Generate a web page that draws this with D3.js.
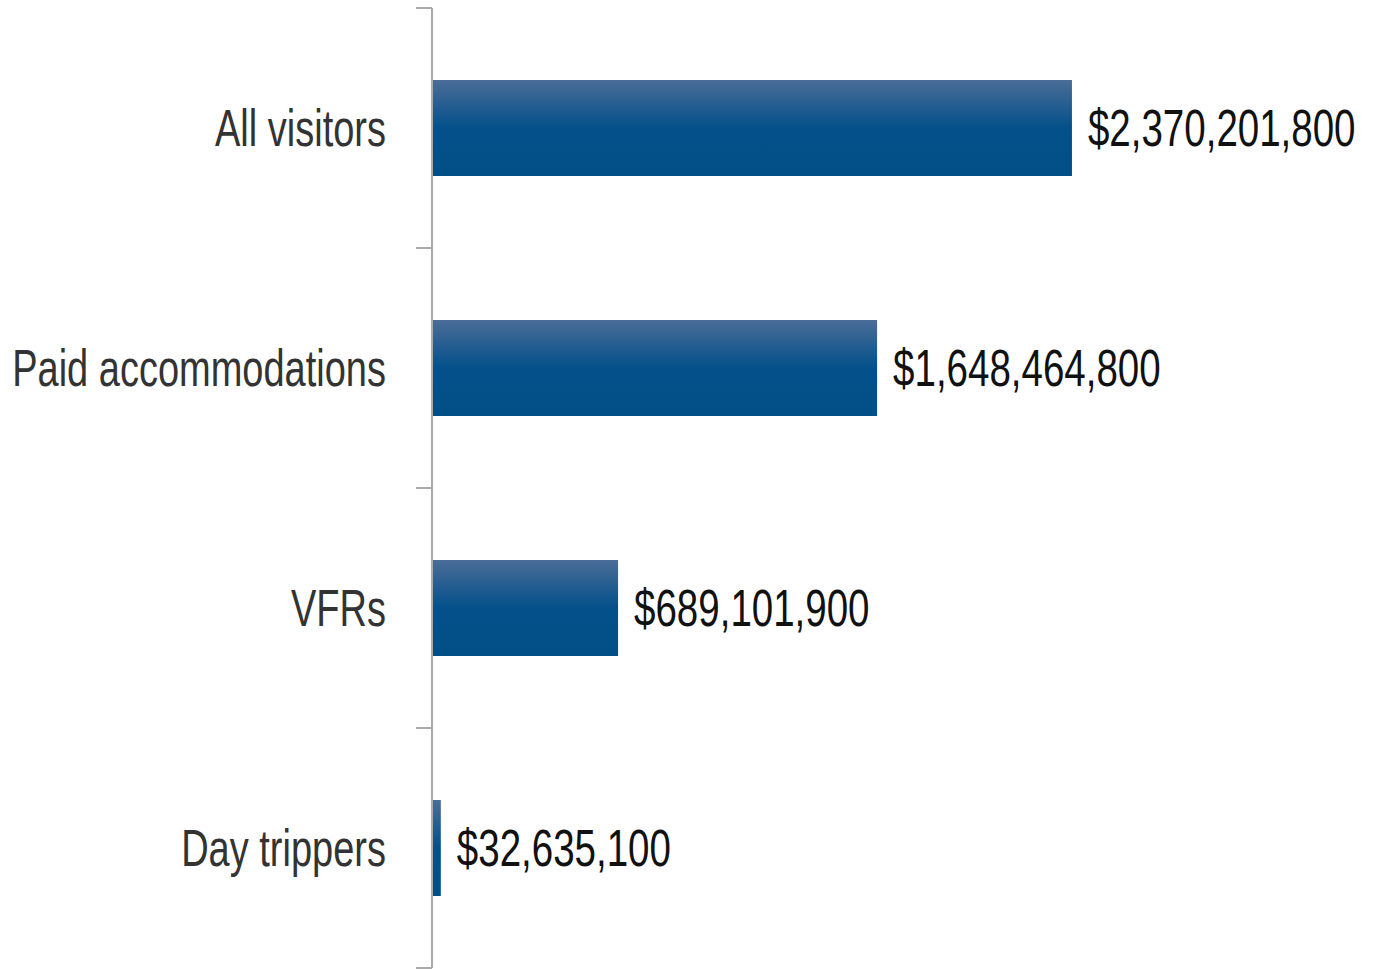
<!DOCTYPE html>
<html>
<head>
<meta charset="utf-8">
<script src="https://cdn.jsdelivr.net/npm/d3@7"></script>
<style>
  body { margin: 0; background: #fff; }
  text { font-family: "Liberation Sans", Arial, sans-serif; }
</style>
</head>
<body>
<div class="container"></div>
<script>
const categories = ["All visitors", "Paid accommodations", "VFRs", "Day trippers"];
const values = [2370201800, 1648464800, 689101900, 32635100];
const valueLabels = ["$2,370,201,800", "$1,648,464,800", "$689,101,900", "$32,635,100"];

const w = 1384;
const h = 969;
const axisX = 432;
const fontSize = 51;
const squeezeVal = 0.755;
const squeezeCat = 0.745;

const svg = d3.select(".container")
              .append("svg")
              .attr("width", w)
              .attr("height", h);

const defs = svg.append("defs");
const grad = defs.append("linearGradient")
                 .attr("id", "barGrad")
                 .attr("x1", 0).attr("y1", 0)
                 .attr("x2", 0).attr("y2", 1);
grad.append("stop").attr("offset", "0%").attr("stop-color", "#4a6d97");
grad.append("stop").attr("offset", "50%").attr("stop-color", "#03508a");
grad.append("stop").attr("offset", "100%").attr("stop-color", "#024f88");

const xScale = d3.scaleLinear()
                 .domain([0, 2500000000])
                 .range([axisX, axisX + 675]);

const yScale = d3.scaleBand()
                 .domain(categories)
                 .range([8, 968])
                 .paddingInner(0.6)
                 .paddingOuter(0.3);

const mid = d => yScale(d) + yScale.bandwidth() / 2;

// bars
svg.selectAll("rect.bar")
   .data(categories)
   .enter()
   .append("rect")
   .attr("class", "bar")
   .attr("x", axisX)
   .attr("y", d => yScale(d))
   .attr("width", (d, i) => xScale(values[i]) - axisX)
   .attr("height", yScale.bandwidth())
   .attr("fill", "url(#barGrad)");

// value labels (condensed by horizontal scaling)
svg.selectAll("g.val")
   .data(categories)
   .enter()
   .append("g")
   .attr("class", "val")
   .attr("transform", (d, i) => "translate(" + (xScale(values[i]) + 16) + "," + mid(d) + ") scale(" + squeezeVal + ",1)")
   .append("text")
   .attr("dy", "0.36em")
   .attr("font-size", fontSize)
   .attr("fill", "#111")
   .text((d, i) => valueLabels[i]);

// category labels
svg.selectAll("g.cat")
   .data(categories)
   .enter()
   .append("g")
   .attr("class", "cat")
   .attr("transform", d => "translate(386," + mid(d) + ") scale(" + squeezeCat + ",1)")
   .append("text")
   .attr("text-anchor", "end")
   .attr("dy", "0.36em")
   .attr("font-size", fontSize)
   .attr("fill", "#333")
   .text(d => d);

// axis line and boundary ticks
const bounds = [8, 248, 488, 728, 968];
svg.append("line")
   .attr("x1", axisX).attr("x2", axisX)
   .attr("y1", 8).attr("y2", 968)
   .attr("stroke", "#aaa").attr("stroke-width", 2);
svg.selectAll("line.tick")
   .data(bounds)
   .enter()
   .append("line")
   .attr("class", "tick")
   .attr("x1", axisX - 16).attr("x2", axisX)
   .attr("y1", d => d).attr("y2", d => d)
   .attr("stroke", "#aaa").attr("stroke-width", 2);
</script>
</body>
</html>
